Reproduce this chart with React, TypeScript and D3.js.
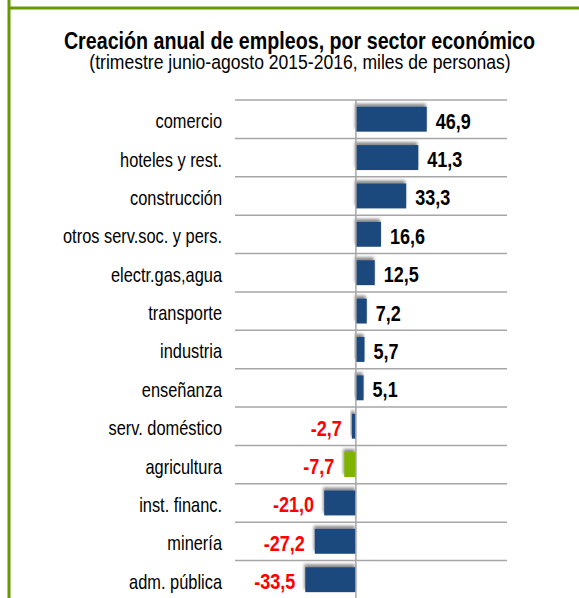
import React from 'react';
import * as d3 from 'd3';

const categories = [
  'comercio',
  'hoteles y rest.',
  'construcción',
  'otros serv.soc. y pers.',
  'electr.gas,agua',
  'transporte',
  'industria',
  'enseñanza',
  'serv. doméstico',
  'agricultura',
  'inst. financ.',
  'minería',
  'adm. pública',
];
const values = [46.9, 41.3, 33.3, 16.6, 12.5, 7.2, 5.7, 5.1, -2.7, -7.7, -21.0, -27.2, -33.5];
const highlighted = ['agricultura'];

const title = 'Creación anual de empleos, por sector económico';
const subtitle = '(trimestre junio-agosto 2015-2016, miles de personas)';

const W = 579;
const H = 598;
const SANS = '"Liberation Sans", Arial, sans-serif';

// no Arial Narrow here, so squeeze Liberation Sans horizontally
const NText = ({ x, y, anchor = 'start', size, bold = false, fill = '#000', sx = 0.82, children }: any) => (
  <text
    transform={`translate(${x},${y}) scale(${sx},1)`}
    textAnchor={anchor}
    fontFamily={SANS}
    fontWeight={bold ? 'bold' : 'normal'}
    fontSize={size}
    fill={fill}
  >
    {children}
  </text>
);

const App = () => {
  const x = d3.scaleLinear().domain([-80, 100]).range([235, 507]);
  const y = d3
    .scaleBand<string>()
    .domain(categories)
    .range([100, 100 + categories.length * 38.375])
    .paddingInner(0.35)
    .paddingOuter(0.175);

  const gap = (y.step() - y.bandwidth()) / 2;
  const fmt = (v: number) => v.toFixed(1).replace('.', ',');
  const mid = (c: string) => (y(c) as number) + y.bandwidth() / 2;

  return (
    <svg
      width={W}
      height={H}
      style={{ position: 'absolute', left: 0, top: 0, background: '#fff' }}
    >
      <defs>
        <filter id="shadow" x="-20%" y="-40%" width="140%" height="180%">
          <feDropShadow dx={-1} dy={-3} stdDeviation={1.6} floodColor="#000" floodOpacity={0.45} />
        </filter>
      </defs>

      {/* frame */}
      <line x1={9} x2={9} y1={0} y2={H} stroke="#669900" strokeWidth={3} />
      <line x1={9} x2={W} y1={8} y2={8} stroke="#669900" strokeWidth={3} />

      <NText x={299.5} y={48.5} anchor="middle" size={24} bold>
        {title}
      </NText>
      <NText x={300} y={69} anchor="middle" size={19.5} sx={0.9}>
        {subtitle}
      </NText>

      {/* gridlines */}
      {categories.map((c) => (
        <line
          key={'g' + c}
          x1={x.range()[0]}
          x2={x.range()[1]}
          y1={(y(c) as number) - gap}
          y2={(y(c) as number) - gap}
          stroke="#a6a6a6"
          strokeWidth={1.5}
        />
      ))}

      {/* bars */}
      {categories.map((c, i) => (
        <rect
          key={'b' + c}
          x={x(Math.min(0, values[i]))}
          y={y(c)}
          width={Math.abs(x(values[i]) - x(0))}
          height={y.bandwidth()}
          fill={highlighted.includes(c) ? '#7fb300' : '#1f497d'}
          filter="url(#shadow)"
        />
      ))}

      <line x1={x(0)} x2={x(0)} y1={100} y2={H} stroke="#a6a6a6" strokeWidth={1.5} />

      {/* category labels */}
      {categories.map((c) => (
        <NText key={'l' + c} x={222} y={mid(c) + 9} anchor="end" size={20}>
          {c}
        </NText>
      ))}

      {/* value labels */}
      {categories.map((c, i) => {
        const v = values[i];
        const pos = v >= 0;
        return (
          <NText
            key={'v' + c}
            x={pos ? x(v) + 9 : x(v) - 10}
            y={mid(c) + 9.5}
            anchor={pos ? 'start' : 'end'}
            size={22}
            bold
            fill={pos ? '#000' : '#ff0000'}
          >
            {fmt(v)}
          </NText>
        );
      })}
    </svg>
  );
};

export default App;
